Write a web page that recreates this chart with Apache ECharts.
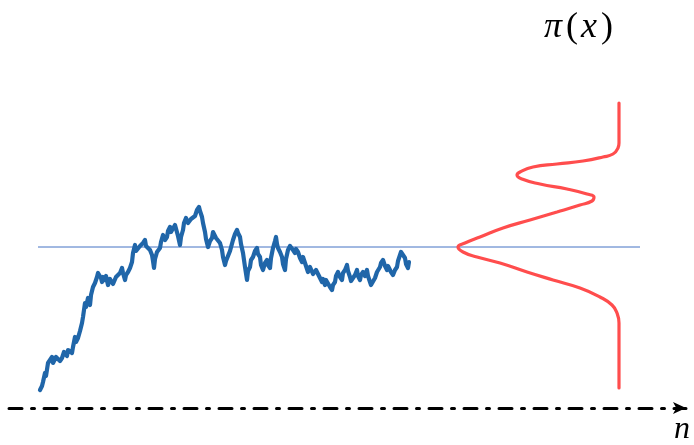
<!DOCTYPE html>
<html>
<head>
<meta charset="utf-8">
<script src="https://cdn.jsdelivr.net/npm/echarts@6/dist/echarts.min.js"></script>
<style>
  html, body { margin: 0; padding: 0; background: #ffffff; }
  #chart { width: 694px; height: 445px; }
</style>
</head>
<body>
<div id="chart"></div>
<script>
// MCMC trace: iteration n and sampled value x
const traceN = [0,2,3,5,6,8,10,12,13,15,16,18,20,22,24,25,27,28,30,32,33,35,36,38,40,42,43,45,46,48,49,50,51,53,55,57,58,60,61,62,63,65,66,68,70,72,73,75,76,78,80,82,83,85,86,88,90,92,93,95,96,98,100,102,103,105,106,108,110,112,113,114,115,117,118,120,121,123,125,127,128,130,131,133,135,137,138,140,141,143,144,146,148,150,151,153,155,157,158,159,160,162,163,165,166,168,170,172,173,175,176,178,180,182,183,185,186,188,190,193,195,197,198,200,201,203,205,207,208,210,211,213,215,217,218,220,221,223,225,227,228,230,231,233,235,236,237,238,240,242,243,245,246,248,250,252,253,255,256,258,260,262,263,265,266,268,270,272,273,275,276,278,280,282,283,285,286,288,290,292,293,295,296,298,300,302,303,305,307,308,310,311,313,315,317,318,320,321,323,325,327,328,330,331,333,335,337,338,340,341,343,345,347,348,350,351,353,355,357,358,360,361,362,363,365,366,368,369];
const traceX = [-14.3,-13.9,-13.5,-12.6,-12.9,-11.6,-11.3,-11.0,-11.6,-11.5,-11.0,-10.8,-11.4,-11.1,-10.5,-10.6,-10.9,-10.3,-10.1,-10.6,-10.0,-9.0,-9.5,-9.1,-8.4,-7.6,-7.0,-5.6,-6.0,-5.1,-5.5,-5.8,-4.8,-4.0,-3.6,-3.0,-2.6,-2.5,-3.1,-3.5,-3.0,-3.3,-2.9,-3.8,-3.2,-3.3,-3.7,-3.5,-3.0,-2.8,-2.6,-2.1,-2.6,-3.3,-2.8,-2.5,-2.1,-1.5,-0.6,0.2,-0.4,-0.3,0.1,-0.1,0.4,0.7,0.1,0.2,-0.3,-0.8,-1.4,-2.1,-1.2,-0.5,-0.7,-0.1,0.5,1.2,0.7,1.0,1.6,2.0,1.5,1.7,2.2,2.0,1.1,0.2,1.0,1.7,2.4,2.9,2.4,2.2,2.8,2.7,3.1,3.7,3.5,4.0,3.6,3.0,2.4,1.5,0.8,0.0,0.6,0.9,1.5,1.4,0.9,1.0,0.4,-0.3,-1.0,-1.8,-1.4,-1.3,-0.4,0.7,1.3,1.7,1.4,1.0,0.3,-0.6,-2.0,-3.3,-2.4,-2.0,-1.3,-1.0,-0.4,-0.1,-0.7,-1.0,-1.8,-2.3,-1.6,-1.3,-1.8,-2.1,-1.1,-0.1,0.6,1.0,0.3,-0.1,-0.5,-1.0,-1.7,-2.3,-1.2,-0.3,0.1,0.2,-0.3,-0.6,-0.2,-0.5,-1.1,-1.5,-1.0,-1.0,-1.9,-2.5,-2.0,-2.1,-2.7,-2.8,-2.3,-2.5,-3.1,-3.5,-3.2,-3.8,-3.3,-3.3,-4.0,-4.3,-3.8,-3.5,-2.9,-2.5,-3.0,-3.3,-2.6,-2.3,-1.8,-2.4,-3.0,-3.4,-3.6,-2.8,-2.3,-2.9,-3.3,-2.8,-2.5,-2.9,-2.3,-2.9,-3.5,-3.8,-4.0,-3.1,-2.5,-2.7,-2.0,-1.6,-1.3,-1.9,-2.3,-1.9,-2.0,-2.5,-2.8,-2.3,-2.0,-1.4,-0.8,-0.5,-0.3,-0.6,-1.1,-1.7,-2.1,-1.5];

// Mean of target (horizontal reference line)
const meanN = [-2, 600];
const meanX = [0, 0];

// Target density pi(x), drawn sideways
const densX  = [14.4,10.4,9.9,9.3,9.0,8.6,8.3,8.0,7.5,7.2,6.8,6.3,5.8,5.3,5.0,4.6,4.2,3.5,2.7,1.9,1.0,0.4,0.0,-0.5,-1.0,-1.6,-2.5,-3.3,-4.1,-5.0,-5.8,-6.6,-7.6,-14.1];
const densPi = [0,0,0.01,0.06,0.16,0.36,0.62,0.86,0.99,1.02,0.97,0.79,0.52,0.32,0.25,0.27,0.39,0.62,0.89,1.16,1.39,1.54,1.61,1.56,1.42,1.19,0.92,0.66,0.39,0.19,0.07,0.02,0,0];

const labelN = 'n';

const zip = (a, b) => a.map((v, i) => [v, b[i]]);

const chart = echarts.init(document.getElementById('chart'), null, { renderer: 'canvas' });
chart.setOption({
  animation: false,
  backgroundColor: '#ffffff',
  grid: { left: 9, right: 8, top: 0, bottom: 37, containLabel: false },
  xAxis: [
    {
      type: 'value', min: -31, max: 646,
      splitLine: { show: false }, axisTick: { show: false }, axisLabel: { show: false },
      axisLine: {
        show: true, onZero: false,
        symbol: ['none', 'arrow'], symbolSize: [9, 13],
        lineStyle: { color: '#000000', width: 3, type: [13, 9.5, 3, 9.5] }
      }
    },
    {
      type: 'value', min: -0.67, max: 6.10, inverse: true, show: false,
      position: 'bottom'
    }
  ],
  yAxis: {
    type: 'value', min: -16.1, max: 24.7, show: false
  },
  series: [
    {
      type: 'line', xAxisIndex: 0, data: zip(meanN, meanX), symbol: 'none',
      lineStyle: { color: '#4472c4', width: 1 }, z: 1
    },
    {
      type: 'line', xAxisIndex: 0, data: zip(traceN, traceX), symbol: 'none',
      lineStyle: { color: '#2066a9', width: 4.2, join: 'round', cap: 'round' }, z: 3
    },
    {
      type: 'line', xAxisIndex: 1, data: zip(densPi, densX), symbol: 'none',
      smooth: 0.5,
      lineStyle: { color: '#ff4d4d', width: 3.2, cap: 'round' }, z: 3
    }
  ],
  graphic: [
    {
      type: 'text', left: 544, top: 10,
      style: {
        text: '{i|π}{u|(}{x|x}{u|)}',
        rich: {
          i: { fontFamily: 'Liberation Serif', fontStyle: 'italic', fontSize: 36, fill: '#000', padding: [0, 4, 0, 0] },
          u: { fontFamily: 'Liberation Serif', fontSize: 36, fill: '#000' },
          x: { fontFamily: 'Liberation Serif', fontStyle: 'italic', fontSize: 36, fill: '#000', padding: [0, 4, 0, 3] }
        }
      }
    },
    {
      type: 'text', left: 674, top: 414,
      style: { text: labelN, fontFamily: 'Liberation Serif', fontStyle: 'italic', fontSize: 32, fill: '#000' }
    }
  ]
});
</script>
</body>
</html>
